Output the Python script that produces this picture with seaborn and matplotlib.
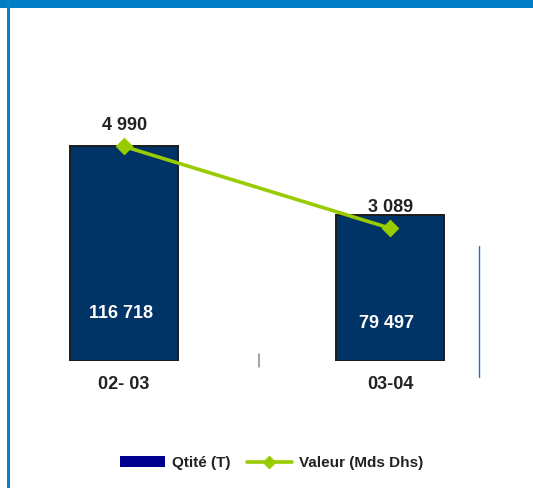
import matplotlib
matplotlib.use("Agg")
import matplotlib.pyplot as plt
import seaborn as sns
import pandas as pd
from matplotlib.patches import Rectangle, Patch
from matplotlib.lines import Line2D

sns.set_theme(style="white")
plt.rcParams['font.family'] = ['Liberation Sans', 'DejaVu Sans']

# ---- data ----
categories = ["02- 03", "03-04"]
qty_t = [116718, 79497]
value_mds = [4990, 3089]
qty_labels = ["116 718", "79 497"]
value_labels = ["4 990", "3 089"]

W, H = 533, 488
fig = plt.figure(figsize=(W / 100, H / 100), dpi=100)
fig.patch.set_facecolor("white")

def fx(px):
    return px / W

def fy(py):
    return 1 - py / H

# axes placement (pixels)
ax_left, ax_right, ax_top, ax_bottom = 20, 510, 40, 361
ax = fig.add_axes([fx(ax_left), fy(ax_bottom), (ax_right - ax_left) / W, (ax_bottom - ax_top) / H])

df = pd.DataFrame({"cat": categories, "qty": qty_t, "val": value_mds})

sns.barplot(data=df, x="cat", y="qty", ax=ax, width=0.405, color="#003366",
            saturation=1, edgecolor="#1c1c1c", linewidth=1.4)

ax2 = ax.twinx()
sns.pointplot(data=df, x="cat", y="val", ax=ax2, color="#99CC00", markers="D",
              errorbar=None, markersize=7.5, linewidth=2.6)

x0, x1 = 124, 390
span = x1 - x0
xlim = ((ax_left - x0) / span, (ax_right - x0) / span)
for a in (ax, ax2):
    a.set_xlim(*xlim)
    for s in a.spines.values():
        s.set_visible(False)
    a.set_ylabel("")
    a.set_xlabel("")
    a.set_yticks([])
    a.grid(False)

ax.set_ylim(0, 116718 * (ax_bottom - ax_top) / 215)
ax2.set_ylim(0, (ax_bottom - ax_top) / 43.0 * 1000)
ax.patch.set_alpha(0)

ax.set_xticks(range(len(categories)))
ax.set_xticklabels(categories, fontsize=13, fontweight="bold", color="#222222")
ax.tick_params(axis="x", length=0, pad=11)

# value labels
for i, lab in enumerate(value_labels):
    ax2.annotate(lab, (i, value_mds[i]), xytext=(1, 21), textcoords="offset pixels",
                 ha="center", va="center", fontsize=13, fontweight="bold", color="#222222")
qty_offsets = [48, 38]
for i, lab in enumerate(qty_labels):
    ax.annotate(lab, (i, 0), xytext=(-3, qty_offsets[i]), textcoords="offset pixels",
                ha="center", va="center", fontsize=13, fontweight="bold", color="white")

# legend
handles = [Patch(facecolor="#00008F", edgecolor="none"),
           Line2D([0], [0], color="#99CC00", lw=2.6, marker="D", markersize=6)]
fig.legend(handles, ["Qtité (T)", "Valeur (Mds Dhs)"], loc="center",
           bbox_to_anchor=(fx(271.5), fy(463)), ncol=2, frameon=False,
           prop={"size": 11, "weight": "bold"}, handlelength=2.95, handleheight=0.75,
           handletextpad=0.45, columnspacing=1.05, borderpad=0, labelcolor="#222222")

# frame decorations
fig.add_artist(Rectangle((0, fy(7.5)), 1, 7.5 / H, transform=fig.transFigure,
                         facecolor="#007DC5", edgecolor="none"))
fig.add_artist(Rectangle((fx(7), 0), 2.5 / W, 1, transform=fig.transFigure,
                         facecolor="#0A80C8", edgecolor="none"))
fig.add_artist(Line2D([fx(479.5), fx(479.5)], [fy(246), fy(377)], transform=fig.transFigure,
                      color="#2A6FD0", lw=1.0))
fig.add_artist(Line2D([fx(258.5), fx(258.5)], [fy(354), fy(367)], transform=fig.transFigure,
                      color="#8a8a8a", lw=1.1))

fig.savefig("out.png", dpi=100, facecolor="white")
